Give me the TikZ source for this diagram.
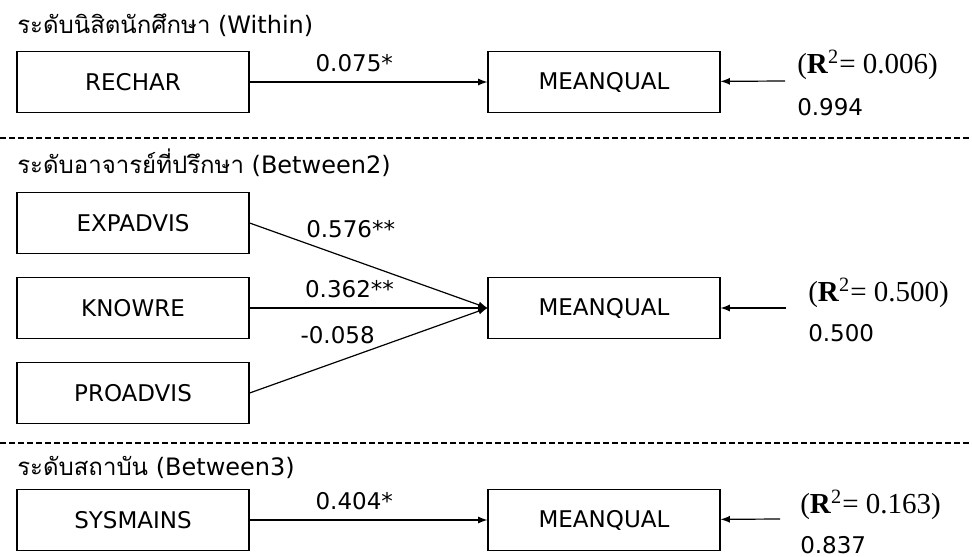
\documentclass[tikz,border=0pt]{standalone}
\usepackage{fontspec}
\setmainfont{DejaVu Sans}
\newfontfamily\thaifont[Script=Thai]{Loma}
\newfontfamily\rfont{Liberation Serif}
\usetikzlibrary{positioning}

\begin{document}
\begin{tikzpicture}[x=0.5pt, y=-0.5pt, auto, node distance=235.5pt, >=latex, semithick,
    main node/.style={rectangle,draw,minimum width=116pt,minimum height=30.5pt,font=\fontsize{11.5}{14}\selectfont},
    coef/.style={font=\fontsize{11.5}{14}\selectfont},
    rsq/.style={anchor=west,font=\rfont\fontsize{14.5}{17}\selectfont},
    level/.style={anchor=west,font=\fontsize{12}{14}\selectfont},
    sep/.style={dash pattern=on 2.75pt off 1.75pt}]

   \useasboundingbox (0,0) rectangle (972,556);

   % Within
   \node[level] (t1) at (10,25) {{\thaifont ระดับนิสิตนักศึกษา} (Within)};
   \node[main node] (1) at (133,82) {RECHAR};
   \node[main node] (2) [right of=1] {MEANQUAL};
   \coordinate (r1) at (785,81);
   \node[rsq] (q1) at (790,65) {(\textbf{R}\textsuperscript{2}= 0.006)};
   \node[coef,anchor=west] (e1) at (790,107) {0.994};

   \draw[sep] (0,138) -- (972,138);

   % Between2
   \node[level] (t2) at (10,163) {{\thaifont ระดับอาจารย์ที่ปรึกษา} (Between2)};
   \node[main node] (4) at (133,308) {KNOWRE};
   \node[main node] (3) [above of=4, node distance=42.5pt] {EXPADVIS};
   \node[main node] (5) [below of=4, node distance=42.5pt] {PROADVIS};
   \node[main node] (6) [right of=4] {MEANQUAL};
   \coordinate (r2) at (786,308);
   \node[rsq] (q2) at (801,293) {(\textbf{R}\textsuperscript{2}= 0.500)};
   \node[coef,anchor=west] (e2) at (801,333) {0.500};

   \draw[sep] (0,443) -- (972,443);

   % Between3
   \node[level] (t3) at (10,467) {{\thaifont ระดับสถาบัน} (Between3)};
   \node[main node] (7) at (133,520) {SYSMAINS};
   \node[main node] (8) [right of=7] {MEANQUAL};
   \coordinate (r3) at (780,519);
   \node[rsq] (q3) at (793,505) {(\textbf{R}\textsuperscript{2}= 0.163)};
   \node[coef,anchor=west] (e3) at (793,545) {0.837};

  \path[->]
    (1) edge node[coef,pos=0.44,above=1.5pt] {0.075*} (2)
    (r1) edge (2)

    (3.east) edge node[coef,pos=0.425,above=7pt] {0.576**} (6.west)
    (4.east) edge node[coef,pos=0.42,above=1.5pt] {0.362**} (6.west)
    (5.east) edge node[coef,pos=0.37,above=5pt] {-0.058} (6.west)
    (r2) edge (6)

    (7) edge node[coef,pos=0.44,above=1.5pt] {0.404*} (8)
    (r3) edge (8)
       ;

\end{tikzpicture}
\end{document}
